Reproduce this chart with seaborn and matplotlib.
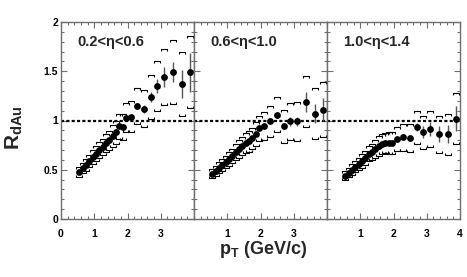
import numpy as np
import pandas as pd
import matplotlib
matplotlib.use("Agg")
import matplotlib.pyplot as plt
from matplotlib.path import Path
from matplotlib.ticker import MultipleLocator, FixedLocator
import seaborn as sns

# ---------------- data ----------------
pt = [0.55, 0.65, 0.75, 0.85, 0.95, 1.05, 1.15, 1.25, 1.35, 1.45, 1.55, 1.65,
      1.75, 1.85, 1.95, 2.1, 2.3, 2.5, 2.7, 2.9, 3.1, 3.37, 3.63, 3.88]

r_eta1 = [0.48, 0.52, 0.55, 0.59, 0.63, 0.66, 0.70, 0.73, 0.77, 0.80, 0.84, 0.88,
          0.94, 0.93, 1.03, 1.04, 1.15, 1.12, 1.24, 1.35, 1.44, 1.49, 1.37, 1.49]
r_eta2 = [0.46, 0.49, 0.52, 0.55, 0.58, 0.61, 0.64, 0.68, 0.71, 0.74, 0.77, 0.79,
          0.82, 0.86, 0.92, 0.94, 0.99, 1.06, 0.94, 0.99, 0.99, 1.19, 1.07, 1.11]
r_eta3 = [0.44, 0.47, 0.50, 0.53, 0.56, 0.59, 0.62, 0.66, 0.68, 0.71, 0.74, 0.76,
          0.77, 0.77, 0.77, 0.81, 0.83, 0.82, 0.93, 0.88, 0.91, 0.86, 0.86, 1.02]

stat_eta1 = [0.01, 0.01, 0.01, 0.01, 0.01, 0.01, 0.01, 0.01, 0.01, 0.01, 0.01, 0.01,
             0.01, 0.01, 0.02, 0.02, 0.03, 0.04, 0.05, 0.07, 0.10, 0.10, 0.14, 0.20]
stat_eta2 = [0.01, 0.01, 0.01, 0.01, 0.01, 0.01, 0.01, 0.01, 0.01, 0.01, 0.01, 0.01,
             0.01, 0.01, 0.02, 0.02, 0.02, 0.03, 0.03, 0.05, 0.05, 0.10, 0.10, 0.12]
stat_eta3 = [0.01, 0.01, 0.01, 0.01, 0.01, 0.01, 0.01, 0.01, 0.01, 0.01, 0.01, 0.01,
             0.01, 0.01, 0.01, 0.02, 0.02, 0.02, 0.04, 0.06, 0.07, 0.08, 0.09, 0.13]

sys_frac = [0.08, 0.08, 0.09, 0.09, 0.09, 0.10, 0.10, 0.10, 0.11, 0.11, 0.12, 0.12,
            0.12, 0.13, 0.13, 0.14, 0.15, 0.16, 0.17, 0.18, 0.19, 0.21, 0.23, 0.24]

panel_labels = ["0.2<\u03b7<0.6", "0.6<\u03b7<1.0", "1.0<\u03b7<1.4"]
xtick_sets = [[0, 1, 2, 3], [1, 2, 3], [1, 2, 3, 4]]
ytick_vals = [0, 0.5, 1, 1.5, 2]
ytick_labels = ["0", "0.5", "1", "1.5", "2"]

series = [r_eta1, r_eta2, r_eta3]
stats = [stat_eta1, stat_eta2, stat_eta3]

# ---------------- style ----------------
sns.set_style("ticks")
plt.rcParams["font.family"] = ["Liberation Sans", "DejaVu Sans"]
plt.rcParams["font.weight"] = "bold"
plt.rcParams["mathtext.fontset"] = "custom"
plt.rcParams["mathtext.rm"] = "Liberation Sans:bold"
plt.rcParams["mathtext.it"] = "Liberation Sans:bold"
plt.rcParams["mathtext.bf"] = "Liberation Sans:bold"

spine_col = "#6e6e6e"

# bracket markers
up_br = Path([(-1, -0.35), (-1, 0.35), (1, 0.35), (1, -0.35)],
             [Path.MOVETO, Path.LINETO, Path.LINETO, Path.LINETO])
lo_br = Path([(-1, 0.35), (-1, -0.35), (1, -0.35), (1, 0.35)],
             [Path.MOVETO, Path.LINETO, Path.LINETO, Path.LINETO])

fig, axes = plt.subplots(1, 3, figsize=(4.67, 2.77), dpi=100, sharey=True)
fig.subplots_adjust(left=61 / 467, right=460 / 467, top=1 - 22 / 277,
                    bottom=1 - 219 / 277, wspace=0)

for i, ax in enumerate(axes):
    df = pd.DataFrame({"pt": pt, "r": series[i], "stat": stats[i],
                       "sysf": sys_frac})
    df["up"] = df["r"] * (1 + df["sysf"])
    df["lo"] = df["r"] * (1 - df["sysf"])

    ax.axhline(1.0, color="black", lw=1.6, ls=(0, (1.4, 1.0)), zorder=1)

    ax.errorbar(df["pt"], df["r"], yerr=df["stat"], fmt="none",
                ecolor="#555555", elinewidth=1.0, capsize=0, zorder=2)
    ax.plot(df["pt"], df["up"], ls="none", marker=up_br, ms=4.0,
            mfc="none", mec="black", mew=0.8, zorder=2)
    ax.plot(df["pt"], df["lo"], ls="none", marker=lo_br, ms=4.0,
            mfc="none", mec="black", mew=0.8, zorder=2)
    sns.scatterplot(data=df, x="pt", y="r", ax=ax, color="black", s=24,
                    edgecolor="black", linewidth=0, zorder=3, legend=False)

    ax.set_xlim(0, 4)
    ax.set_ylim(0, 2)
    ax.set_xlabel("")
    ax.set_ylabel("")
    ax.xaxis.set_major_locator(FixedLocator(xtick_sets[i]))
    ax.xaxis.set_minor_locator(MultipleLocator(0.2))
    ax.yaxis.set_major_locator(FixedLocator(ytick_vals))
    ax.yaxis.set_minor_locator(MultipleLocator(0.1))
    ax.tick_params(which="both", direction="in", top=True, right=True,
                   colors=spine_col, labelcolor="black", width=0.8)
    ax.tick_params(which="major", length=4)
    ax.tick_params(which="minor", length=2)
    ax.tick_params(axis="x", labelsize=7.5, pad=7)
    ax.tick_params(axis="y", labelsize=7.5, pad=2)
    for lab in ax.get_xticklabels() + ax.get_yticklabels():
        lab.set_fontweight("bold")
    for sp in ax.spines.values():
        sp.set_color(spine_col)
        sp.set_linewidth(1.0)
    ax.text(0.12, 0.90, panel_labels[i], transform=ax.transAxes,
            fontsize=10.5, fontweight="bold", va="center", ha="left")

axes[0].set_yticks(ytick_vals)
axes[0].set_yticklabels(ytick_labels)
for ax in axes[1:]:
    ax.tick_params(axis="y", labelleft=False)

fig.text(263 / 467, 1 - 249 / 277, r"$\mathbf{p_T}$ (GeV/c)", fontsize=13,
         fontweight="bold", ha="center", va="center")
fig.text(14 / 467, 1 - 128 / 277, r"$\mathbf{R_{dAu}}$", fontsize=15,
         fontweight="bold", ha="center", va="center", rotation=90)

fig.savefig("out.png", dpi=100, facecolor="white")
